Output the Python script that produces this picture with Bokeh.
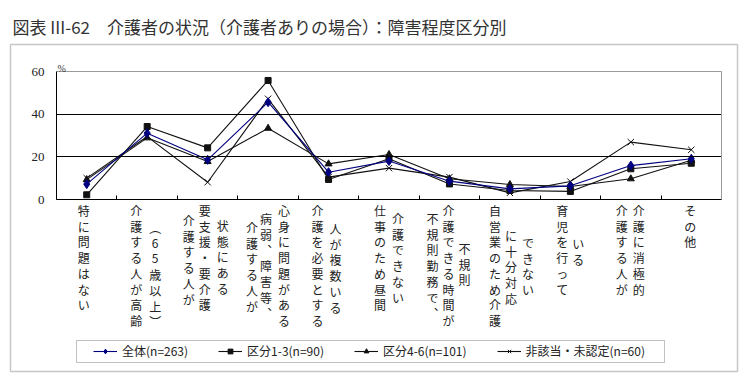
from bokeh.plotting import figure
from bokeh.models import (Range1d, FixedTicker, LabelSet, Label, ColumnDataSource,
                          Legend, LegendItem, BoxAnnotation, LinearAxis)
from bokeh.core.properties import value
from bokeh.embed import file_html
from bokeh.resources import INLINE

# ---------------- data ----------------
title_text = "図表 III-62　介護者の状況（介護者ありの場合）：障害程度区分別"
categories = [
    "特に問題はない",
    "介護する人が高齢（65歳以上）",
    "介護する人が要支援・要介護状態にある",
    "介護する人が病弱、障害等、心身に問題がある",
    "介護を必要とする人が複数いる",
    "仕事のため昼間介護できない",
    "不規則勤務で、介護できる時間が不規則",
    "自営業のため介護に十分対応できない",
    "育児を行っている",
    "介護する人が介護に消極的",
    "その他",
]
series_names = ["全体(n=263)", "区分1-3(n=90)", "区分4-6(n=101)", "非該当・未認定(n=60)"]
zentai = [7.2, 31.1, 18.6, 45.6, 12.8, 18.0, 8.6, 5.0, 6.4, 15.9, 19.1]
kubun13 = [2.2, 34.2, 24.2, 55.8, 9.4, 19.1, 7.3, 4.2, 3.8, 14.4, 17.0]
kubun46 = [9.3, 28.9, 17.8, 33.4, 16.7, 21.1, 9.7, 7.0, 6.1, 9.7, 18.4]
higaitou = [10.0, 29.5, 8.1, 47.2, 10.5, 14.7, 10.5, 3.1, 8.4, 26.9, 23.3]
y_ticks = [0, 20, 40, 60]
grid_values = [20, 40]
y_max = 60
y_unit = "%"

# ---------------- layout (how each label is broken into vertical columns) ----
# (number of characters, x offset px from category centre, page y of first char centre)
label_columns = [
    [(7, -3, 210)],
    [(8, -11, 210), (7, 8, 227)],
    [(6, -19, 220), (7, -3, 210), (5, 15, 225)],
    [(6, -16, 227), (7, -2, 218), (8, 16, 210)],
    [(8, -11, 210), (6, 7, 228)],
    [(7, -9, 210), (6, 9, 218)],
    [(7, -17, 218), (8, -1, 210), (3, 15, 248)],
    [(8, -15, 210), (5, 1, 235), (4, 18, 242)],
    [(6, -8, 210), (2, 8, 243)],
    [(6, -9, 210), (6, 8, 210)],
    [(3, -1, 210)],
]
CHAR_STEP = 15.7  # vertical pitch of stacked characters, px
vertical_forms = {"（": "︵", "）": "︶", "、": "︑"}

JP = "Noto Sans CJK JP"
SERIF = "Liberation Serif"
W, H = 748, 376
# plot area in page pixels
PX_L, PX_R, PY_TOP, PY_BOT = 56, 721, 71, 199

n = len(categories)
xs = [i + 0.5 for i in range(n)]

sx = (PX_R - PX_L) / n          # px per x unit
sy = (PY_BOT - PY_TOP) / y_max  # px per y unit


def px_x(px):
    return (px - PX_L) / sx


def px_y(py):
    return (PY_BOT - py) / sy


p = figure(width=W, height=H, x_range=Range1d(px_x(0), px_x(W)), y_range=Range1d(px_y(H), px_y(0)),
           output_backend="svg", toolbar_location=None, min_border=0)
p.background_fill_color = "white"
p.border_fill_color = "white"
p.outline_line_color = None
p.xgrid.visible = False
p.ygrid.visible = False


def plain_line_axis(loc, bounds, color, side):
    ax = LinearAxis(fixed_location=loc, bounds=bounds, ticker=FixedTicker(ticks=[]),
                    axis_line_color=color, axis_line_width=1,
                    major_tick_line_color=None, minor_tick_line_color=None)
    p.add_layout(ax, side)


# horizontal rules at 20 / 40 (black) and plot-area top (grey), right edge (grey)
for g in grid_values:
    plain_line_axis(g, (0, n), "black", "below")
plain_line_axis(y_max, (0, n), "#9a9a9a", "below")
plain_line_axis(n, (0, y_max), "#9a9a9a", "left")

# main axes (placed at the data origin)
ya = p.yaxis[0]
ya.fixed_location = 0
ya.bounds = (0, y_max)
ya.ticker = FixedTicker(ticks=y_ticks)
ya.axis_line_color = "black"
ya.major_tick_out = 0
ya.major_tick_in = 0
ya.minor_tick_line_color = None
ya.major_label_standoff = 12
ya.major_label_text_font = SERIF
ya.major_label_text_font_size = "13px"
ya.major_label_text_color = "#222222"

xa = p.xaxis[0]
xa.fixed_location = 0
xa.bounds = (0, n)
xa.ticker = FixedTicker(ticks=list(range(n + 1)))
xa.major_label_overrides = {i: "" for i in range(n + 1)}
xa.axis_line_color = "black"
xa.major_tick_in = 4
xa.major_tick_out = 0
xa.major_tick_line_color = "black"
xa.minor_tick_line_color = None

# series
styles = [
    dict(color="#000080", marker="diamond", size=9),
    dict(color="#111111", marker="square", size=6),
    dict(color="#111111", marker="triangle", size=7),
    dict(color="#111111", marker="x", size=9),
]
series = [zentai, kubun13, kubun46, higaitou]
renderers = []
for vals, st in zip(series, styles):
    lr = p.line(xs, vals, line_color=st["color"], line_width=1.1)
    sr = p.scatter(xs, vals, marker=st["marker"], size=st["size"],
                   fill_color=st["color"], line_color=st["color"], line_width=1)
    renderers.append([lr, sr])
for k in [1, 2, 3, 0]:
    for r in renderers[k]:
        p.renderers.remove(r)
        p.renderers.append(r)

# category labels (vertical text, one glyph per character)
lx, ly, lt = [], [], []
for i, (lab, cols) in enumerate(zip(categories, label_columns)):
    pos = 0
    for (cnt, dx, top) in cols:
        chunk = lab[pos:pos + cnt]
        pos += cnt
        for k, ch in enumerate(chunk):
            lx.append(xs[i] + dx / sx)
            ly.append(px_y(top + k * CHAR_STEP))
            lt.append(vertical_forms.get(ch, ch))
src = ColumnDataSource(dict(x=lx, y=ly, text=lt))
p.add_layout(LabelSet(x="x", y="y", text="text", source=src,
                      text_font=value(JP), text_font_size="12px", text_color="#222222",
                      text_align="center", text_baseline="middle"))

# unit label
p.add_layout(Label(x=px_x(57), y=px_y(68), text=y_unit,
                   text_font=SERIF, text_font_size="10px", text_color="#333333",
                   text_baseline="middle", text_align="left"))

# title
p.add_layout(Label(x=px_x(12), y=px_y(26), text=title_text, text_font=JP, text_font_size="17px",
                   text_color="#333333", text_baseline="middle", text_align="left"))

# outer frame and legend frame
p.add_layout(BoxAnnotation(left=px_x(10), right=px_x(737), top=px_y(44), bottom=px_y(371),
                           fill_alpha=0, line_color="#444444", line_width=1.5))
p.add_layout(BoxAnnotation(left=px_x(76), right=px_x(664), top=px_y(340), bottom=px_y(362),
                           fill_alpha=0, line_color="#333333", line_width=1))

legend = Legend(items=[LegendItem(label=nm, renderers=rs) for nm, rs in zip(series_names, renderers)],
                location=(88, H - 364), orientation="horizontal", margin=0, padding=5,
                spacing=30, glyph_width=24, glyph_height=12, label_standoff=5,
                label_text_font=JP, label_text_font_size="12px", label_text_color="#222222",
                border_line_alpha=0, background_fill_alpha=0)
p.add_layout(legend)

open("out.html", "w").write(file_html(p, INLINE))
